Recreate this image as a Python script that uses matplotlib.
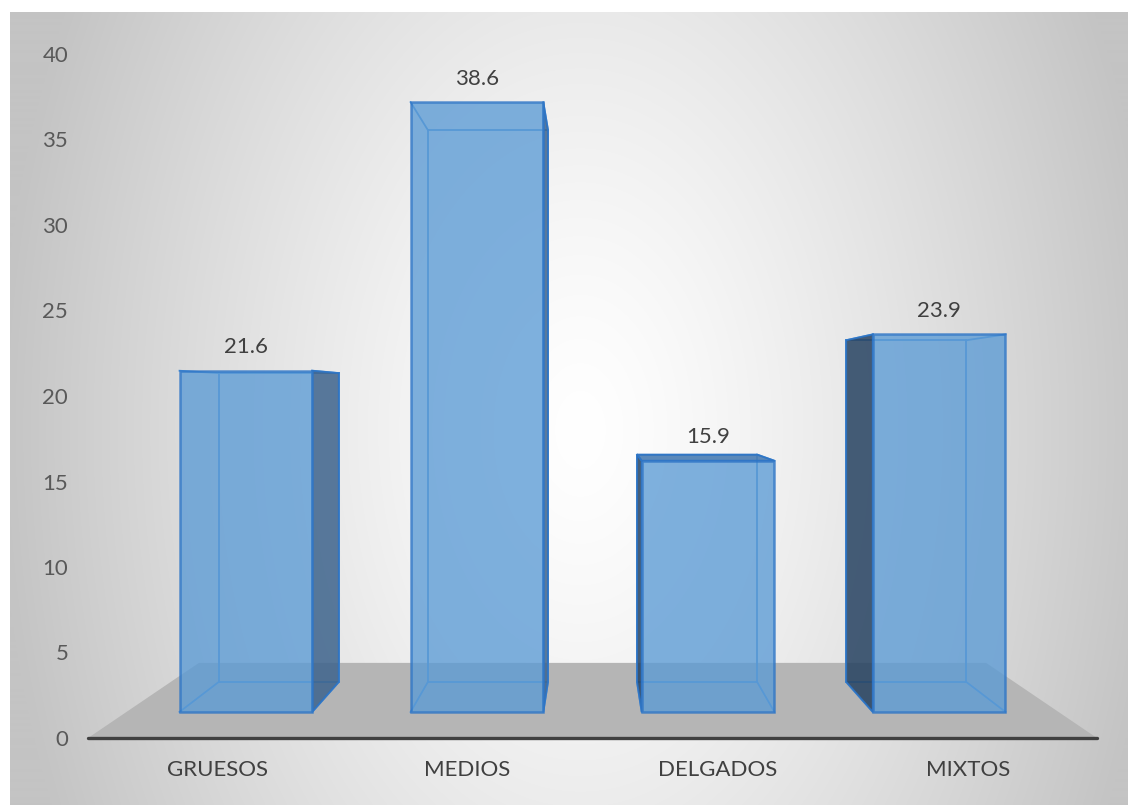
import numpy as np
import matplotlib; matplotlib.use('Agg')
import matplotlib.pyplot as plt
from matplotlib.patches import Polygon

categorias = ["GRUESOS", "MEDIOS", "DELGADOS", "MIXTOS"]
valores = [21.6, 38.6, 15.9, 23.9]
yticks = [0, 5, 10, 15, 20, 25, 30, 35, 40]

plt.rcParams['font.family'] = ['Lato', 'DejaVu Sans']

W, H = 1128, 805
PX = 17.1            # pixels per value unit on the front plane
X0, Y0 = 592.5, 738  # pixel position of world origin (front floor edge, centre)

# simple perspective camera
CAM_D = 73.9   # distance from camera to front plane (value units)
EYE = 20.0     # eye height
FLOOR_HALF = 29.5
FLOOR_DEPTH = 20.8
SPACING = 14.63
BAR_W = 8.4
Z1, Z2 = 6.1, 14.5

def proj(x, v, z):
    k = CAM_D / (CAM_D + z)
    return x * k, EYE + (v - EYE) * k

fig = plt.figure(figsize=(W / 100, H / 100), dpi=100)
fig.patch.set_facecolor('white')
left, top = 10, 12
ax = fig.add_axes([left / W, 0, (W - left) / W, (H - top) / H])
xlim = ((left - X0) / PX, (W - X0) / PX)
ylim = ((Y0 - H) / PX, (Y0 - top) / PX)
ax.set_xlim(*xlim); ax.set_ylim(*ylim)

# radial background: white centre fading to grey at the edges
gy, gx = np.mgrid[top:H, left:W]
r = np.sqrt(((gx - 580) / 580.0) ** 2 + ((gy - 430) / 900.0) ** 2)
t = np.clip(r, 0, 1) ** 1.3
shade = 255 - t * (255 - 196)
img = np.dstack([shade, shade, shade]) / 255.0
ax.imshow(img, extent=(*xlim, ylim[0], ylim[1]), origin='upper', aspect='auto', zorder=0)

# floor
floor = [proj(-FLOOR_HALF, 0, 0), proj(FLOOR_HALF, 0, 0),
         proj(FLOOR_HALF, 0, FLOOR_DEPTH), proj(-FLOOR_HALF, 0, FLOOR_DEPTH)]
ax.add_patch(Polygon(floor, closed=True, facecolor='#b5b5b5', edgecolor='none', zorder=1))
ax.plot([-FLOOR_HALF, FLOOR_HALF], [0, 0], color='#404040', lw=2.4,
        solid_capstyle='round', zorder=2)

FRONT = '#5b9bd5'
EDGE = '#2e75c6'
INNER = '#4a8fd6'
cat_x = [(i - 1.5) * SPACING for i in range(len(categorias))]

for cx, v in zip(cat_x, valores):
    xl, xr = cx - BAR_W / 2, cx + BAR_W / 2
    c = {}
    for nx, xx in (('l', xl), ('r', xr)):
        for nv, vv in (('b', 0), ('t', v)):
            for nz, zz in (('f', Z1), ('k', Z2)):
                c[nx + nv + nz] = proj(xx, vv, zz)
    # hidden/back edges, seen through the translucent front
    for a, b in [('lbk', 'rbk'), ('ltk', 'rtk'), ('lbk', 'ltk'), ('rbk', 'rtk'),
                 ('lbf', 'lbk'), ('rbf', 'rbk'), ('ltf', 'ltk'), ('rtf', 'rtk')]:
        ax.plot([c[a][0], c[b][0]], [c[a][1], c[b][1]], color=INNER, lw=1.3, zorder=3)
    # side faces
    if xr < 0:
        side = [c['rbf'], c['rbk'], c['rtk'], c['rtf']]
        ax.add_patch(Polygon(side, closed=True, facecolor=(0.24, 0.39, 0.55), alpha=0.85,
                             edgecolor=EDGE, lw=1.4, zorder=4))
    if xl > 0:
        side = [c['lbf'], c['lbk'], c['ltk'], c['ltf']]
        ax.add_patch(Polygon(side, closed=True, facecolor=(0.15, 0.26, 0.38), alpha=0.85,
                             edgecolor=EDGE, lw=1.4, zorder=4))
    if v < EYE:
        topf = [c['ltf'], c['rtf'], c['rtk'], c['ltk']]
        ax.add_patch(Polygon(topf, closed=True, facecolor=(0.29, 0.49, 0.70), alpha=0.9,
                             edgecolor=EDGE, lw=1.4, zorder=4))
    front = [c['lbf'], c['rbf'], c['rtf'], c['ltf']]
    ax.add_patch(Polygon(front, closed=True, facecolor=FRONT, alpha=0.78,
                         edgecolor=EDGE, lw=1.8, zorder=5))
    ax.annotate(f"{v:.1f}", xy=((c['ltf'][0] + c['rtf'][0]) / 2, c['ltf'][1]),
                xytext=(0, 17), textcoords='offset points', ha='center', va='center',
                fontsize=16, color='#404040', zorder=6)

for s in ax.spines.values():
    s.set_visible(False)
ax.spines['left'].set_position(('data', (71 - X0) / PX))
ax.spines['bottom'].set_position(('data', 0))
ax.set_yticks(yticks)
ax.set_yticklabels([str(t) for t in yticks])
ax.set_xticks(cat_x)
ax.set_xticklabels(categorias)
ax.tick_params(axis='y', length=0, pad=2, labelsize=16, labelcolor='#595959')
ax.tick_params(axis='x', length=0, pad=16, labelsize=16, labelcolor='#404040')

fig.savefig('out.png', dpi=100)
